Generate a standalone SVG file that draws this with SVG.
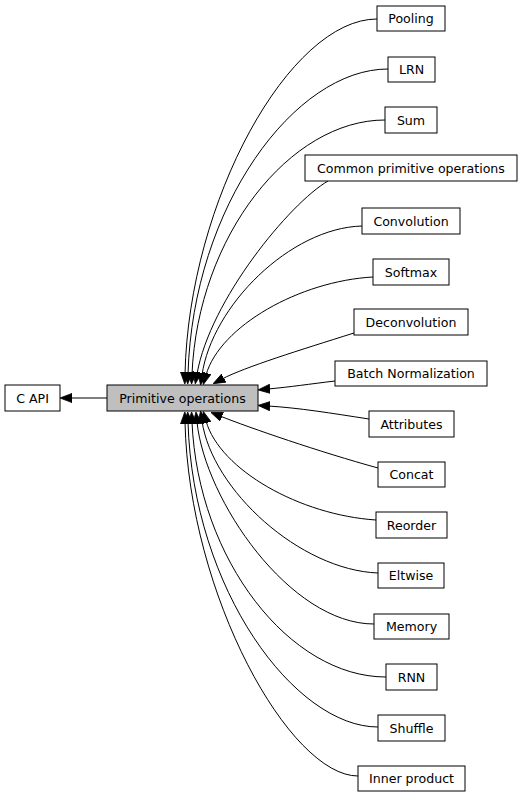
<svg xmlns="http://www.w3.org/2000/svg" width="523" height="797" viewBox="0 0 523 797">
<style>
.n rect{fill:#fff;stroke:#000;stroke-width:1}
.n.hl rect{fill:#bfbfbf}
.n text{font-family:"DejaVu Sans","Liberation Sans",sans-serif;font-size:12.6px;fill:#000;text-anchor:middle}
.e path{fill:none;stroke:#000;stroke-width:1}
</style>
<defs>
<marker id="ah" viewBox="0 -5 12 10" refX="2" refY="0" markerWidth="12" markerHeight="10" markerUnits="userSpaceOnUse" orient="auto">
<path d="M0,-4.6L12,0L0,4.6z" fill="#000" stroke="#000" stroke-width="0.8"/>
</marker>
</defs>
<rect width="523" height="797" fill="#fff"/>
<g id="edges" class="e">
<path d="M107,398L70,398" marker-end="url(#ah)"/>
<path d="M377,19C290,19 189,200 185,374" marker-end="url(#ah)"/>
<path d="M388,69C295,69 193,206 188,374" marker-end="url(#ah)"/>
<path d="M385,120C290,120 198,236 192,374" marker-end="url(#ah)"/>
<path d="M328,181C290,203 210,300 197,374" marker-end="url(#ah)"/>
<path d="M362,226C290,228 212,306 202,375" marker-end="url(#ah)"/>
<path d="M373,277C300,281 220,326 206,375" marker-end="url(#ah)"/>
<path d="M354,333C300,350 245,367 222,379" marker-end="url(#ah)"/>
<path d="M335,381C310,384 290,387 268,389" marker-end="url(#ah)"/>
<path d="M369,419C330,413 300,408 268,406" marker-end="url(#ah)"/>
<path d="M378,468C320,452 250,428 220,416" marker-end="url(#ah)"/>
<path d="M376,520C300,515 220,470 206,421" marker-end="url(#ah)"/>
<path d="M378,573C300,570 212,490 202,421" marker-end="url(#ah)"/>
<path d="M374,624C290,624 205,500 197,422" marker-end="url(#ah)"/>
<path d="M386,677C290,677 198,560 192,422" marker-end="url(#ah)"/>
<path d="M378,727C295,727 193,590 188,422" marker-end="url(#ah)"/>
<path d="M358,776C290,776 189,596 185,422" marker-end="url(#ah)"/>
</g>
<g id="capi" class="n"><rect x="5" y="385" width="55" height="26"/><text x="32.5" y="402.5">C API</text></g>
<g id="prim" class="n hl"><rect x="107" y="385" width="151" height="26"/><text x="182.5" y="402.5">Primitive operations</text></g>
<g id="pooling" class="n"><rect x="377" y="6" width="68" height="25"/><text x="411" y="23">Pooling</text></g>
<g id="lrn" class="n"><rect x="388" y="57" width="47" height="25"/><text x="411.5" y="74">LRN</text></g>
<g id="sum" class="n"><rect x="385" y="107" width="52" height="26"/><text x="411" y="124.5">Sum</text></g>
<g id="common" class="n"><rect x="305" y="155" width="212" height="26"/><text x="411" y="172.5">Common primitive operations</text></g>
<g id="convolution" class="n"><rect x="362" y="208" width="98" height="26"/><text x="411" y="225.5">Convolution</text></g>
<g id="softmax" class="n"><rect x="373" y="259" width="76" height="26"/><text x="411" y="276.5">Softmax</text></g>
<g id="deconvolution" class="n"><rect x="354" y="309" width="114" height="26"/><text x="411" y="326.5">Deconvolution</text></g>
<g id="batchnorm" class="n"><rect x="335" y="361" width="152" height="25"/><text x="411" y="378">Batch Normalization</text></g>
<g id="attributes" class="n"><rect x="369" y="411" width="85" height="26"/><text x="411.5" y="428.5">Attributes</text></g>
<g id="concat" class="n"><rect x="378" y="462" width="67" height="25"/><text x="411.5" y="479">Concat</text></g>
<g id="reorder" class="n"><rect x="376" y="512" width="71" height="26"/><text x="411.5" y="529.5">Reorder</text></g>
<g id="eltwise" class="n"><rect x="378" y="563" width="66" height="25"/><text x="411" y="580">Eltwise</text></g>
<g id="memory" class="n"><rect x="374" y="614" width="75" height="25"/><text x="411.5" y="631">Memory</text></g>
<g id="rnn" class="n"><rect x="386" y="664" width="51" height="26"/><text x="411.5" y="681.5">RNN</text></g>
<g id="shuffle" class="n"><rect x="378" y="715" width="67" height="26"/><text x="411.5" y="732.5">Shuffle</text></g>
<g id="innerproduct" class="n"><rect x="358" y="766" width="107" height="25"/><text x="411.5" y="783">Inner product</text></g>
</svg>
